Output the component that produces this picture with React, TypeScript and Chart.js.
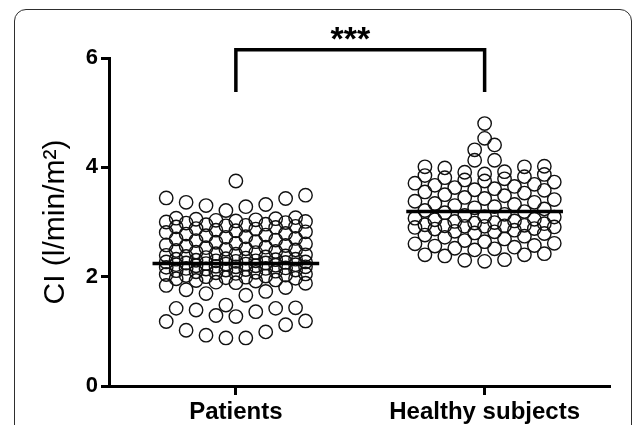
import React, { useEffect, useRef } from "react";
import { Chart, registerables } from "chart.js";

Chart.register(...registerables);

// ---- data ----
const categories = ["Patients", "Healthy subjects"];

const patientsCI = [
  0.88, 0.88, 0.93, 0.99, 1.02, 1.12, 1.18, 1.19,
  1.27, 1.29, 1.36, 1.39, 1.42, 1.42, 1.43,
  1.48, 1.66, 1.69, 1.73, 1.76, 1.80, 1.84, 1.88,
  1.89, 1.90, 1.92, 1.93, 1.94, 1.96, 1.97,
  1.98, 1.99, 2.00, 2.01, 2.02, 2.03, 2.04, 2.05,
  2.06, 2.07, 2.08, 2.09, 2.10, 2.11, 2.12,
  2.12, 2.13, 2.14, 2.15, 2.15, 2.16, 2.17, 2.18,
  2.18, 2.19, 2.20, 2.20, 2.21, 2.22, 2.22,
  2.23, 2.23, 2.24, 2.25, 2.25, 2.26, 2.27, 2.27,
  2.28, 2.29, 2.29, 2.30, 2.31, 2.32, 2.32,
  2.33, 2.34, 2.35, 2.36, 2.37, 2.38, 2.39, 2.40,
  2.41, 2.42, 2.44, 2.45, 2.46, 2.48, 2.49,
  2.50, 2.51, 2.53, 2.54, 2.56, 2.57, 2.58, 2.60,
  2.61, 2.63, 2.64, 2.66, 2.67, 2.69, 2.70,
  2.72, 2.73, 2.75, 2.76, 2.78, 2.79, 2.81, 2.82,
  2.84, 2.85, 2.87, 2.88, 2.90, 2.91, 2.92,
  2.93, 2.94, 2.95, 2.96, 2.98, 2.99, 3.00, 3.01,
  3.02, 3.03, 3.04, 3.05, 3.06, 3.07, 3.08,
  3.21, 3.28, 3.30, 3.32, 3.36, 3.43, 3.44, 3.49,
  3.75,
];

const healthyCI = [
  2.28, 2.30, 2.31, 2.38, 2.40, 2.40, 2.42,
  2.49, 2.51, 2.52, 2.54, 2.56, 2.57, 2.60, 2.61,
  2.64, 2.66, 2.69, 2.72, 2.74, 2.76, 2.79,
  2.80, 2.82, 2.83, 2.85, 2.87, 2.88, 2.90, 2.91,
  2.92, 2.92, 2.93, 2.93, 2.94, 2.95, 2.97,
  2.98, 2.99, 3.01, 3.02, 3.04, 3.05, 3.07, 3.09,
  3.10, 3.12, 3.14, 3.17, 3.19, 3.21, 3.24,
  3.26, 3.28, 3.30, 3.32, 3.34, 3.36, 3.38, 3.41,
  3.43, 3.45, 3.48, 3.50, 3.53, 3.55, 3.58,
  3.59, 3.61, 3.63, 3.65, 3.67, 3.69, 3.71, 3.73,
  3.75, 3.77, 3.79, 3.81, 3.83, 3.85, 3.87,
  3.88, 3.91, 3.92, 3.99, 4.01, 4.01, 4.02,
  4.13, 4.13,
  4.32, 4.41,
  4.53,
  4.80,
];

const groupMeans = [2.24, 3.19];
const yTickValues = [0, 2, 4, 6];
const bracketY = [5.38, 6.15];
const significanceLabel = "***";
const significanceAt = [0.46, 6.32];

// ---- layout helpers ----
const FONT = "'Liberation Sans', Arial, Helvetica, sans-serif";

// Prism-like column scatter: sorted values grouped into rows (honeycomb: alternating
// row capacities), each row spread side by side around the category centre.
function spread(values: number[], center: number, rowWindow: number, caps: number[], step: number) {
  const sorted = [...values].sort((a, b) => a - b);
  const out: { x: number; y: number }[] = [];
  let i = 0;
  let r = 0;
  while (i < sorted.length) {
    const cap = caps[r % caps.length];
    const start = sorted[i];
    const row: number[] = [];
    while (i < sorted.length && row.length < cap && sorted[i] < start + rowWindow) {
      row.push(sorted[i]);
      i++;
    }
    const n = row.length;
    row.forEach((v, k) => {
      let off: number;
      if (n % 2 === 1) {
        if (k === 0) off = 0;
        else {
          const j = Math.ceil(k / 2);
          off = (k % 2 === 1 ? -1 : 1) * j * step;
        }
      } else {
        const j = Math.floor(k / 2);
        off = (k % 2 === 0 ? -1 : 1) * (j + 0.5) * step;
      }
      out.push({ x: center + off, y: v });
    });
    r++;
  }
  return out;
}

const bracketPlugin = {
  id: "bracket",
  afterDraw(chart: any) {
    const { ctx, scales } = chart;
    const x = scales.x;
    const y = scales.y;
    const x0 = x.getPixelForValue(0);
    const x1 = x.getPixelForValue(1);
    const yl = y.getPixelForValue(bracketY[0]);
    const yh = y.getPixelForValue(bracketY[1]);
    ctx.save();
    ctx.strokeStyle = "#000";
    ctx.lineWidth = 3.5;
    ctx.lineJoin = "miter";
    ctx.lineCap = "butt";
    ctx.beginPath();
    ctx.moveTo(x0, yl);
    ctx.lineTo(x0, yh);
    ctx.lineTo(x1, yh);
    ctx.lineTo(x1, yl);
    ctx.stroke();
    ctx.fillStyle = "#000";
    ctx.font = `bold 34px ${FONT}`;
    ctx.textAlign = "center";
    ctx.textBaseline = "middle";
    ctx.fillText(significanceLabel, x.getPixelForValue(significanceAt[0]), y.getPixelForValue(significanceAt[1]));
    ctx.restore();
  },
};

export default function App() {
  const ref = useRef<HTMLCanvasElement>(null);

  useEffect(() => {
    if (!ref.current) return;
    const step = 0.08;
    const pointStyle = {
      pointRadius: 6.7,
      pointHoverRadius: 6.7,
      pointBorderWidth: 1.4,
      pointBorderColor: "#111",
      pointBackgroundColor: "rgba(0,0,0,0)",
      showLine: false,
      clip: false as any,
      order: 2,
    };
    const meanLine = (i: number, half: number) => ({
      data: [
        { x: i - half, y: groupMeans[i] },
        { x: i + half, y: groupMeans[i] },
      ],
      showLine: true,
      borderColor: "#000",
      borderWidth: 3.5,
      pointRadius: 0,
      clip: false as any,
      order: 0,
    });

    const chart = new Chart(ref.current, {
      type: "scatter",
      data: {
        datasets: [
          meanLine(0, 0.335),
          meanLine(1, 0.315),
          { ...pointStyle, data: spread(patientsCI, 0, 0.45, [8, 7], step) },
          { ...pointStyle, data: spread(healthyCI, 1, 0.18, [7, 8], step) },
        ] as any,
      },
      options: {
        responsive: false,
        devicePixelRatio: 1,
        animation: false,
        layout: { padding: { left: 0, top: 58, right: 25, bottom: 0 } },
        plugins: { legend: { display: false }, tooltip: { enabled: false } },
        scales: {
          x: {
            type: "linear",
            min: -0.51,
            max: 1.5,
            afterBuildTicks: (s: any) => {
              s.ticks = categories.map((_, i) => ({ value: i }));
            },
            afterFit: (s: any) => {
              s.height = 39;
            },
            ticks: {
              autoSkip: false,
              maxRotation: 0,
              padding: 3,
              color: "#000",
              font: { family: FONT, size: 24, weight: "bold" },
              callback: (v: any) => categories[Math.round(Number(v))] ?? "",
            },
            grid: { display: true, drawOnChartArea: false, drawTicks: true, tickLength: 9, lineWidth: 3, color: "#000" },
            border: { display: true, width: 3, color: "#000" },
          },
          y: {
            type: "linear",
            min: 0,
            max: 6,
            afterBuildTicks: (s: any) => {
              s.ticks = yTickValues.map((v) => ({ value: v }));
            },
            afterFit: (s: any) => {
              s.width = 109;
            },
            ticks: {
              padding: 3,
              color: "#000",
              font: { family: FONT, size: 22, weight: "bold" },
            },
            grid: { display: true, drawOnChartArea: false, drawTicks: true, tickLength: 8, lineWidth: 3, color: "#000" },
            border: { display: true, width: 3, color: "#000" },
            title: {
              display: true,
              text: "CI (l/min/m²)",
              color: "#000",
              font: { family: FONT, size: 30, weight: "normal" },
              padding: { top: 38, bottom: 0 },
            },
          },
        },
      } as any,
      plugins: [bracketPlugin],
    });
    return () => chart.destroy();
  }, []);

  return (
    <div
      style={{
        position: "fixed",
        left: 0,
        top: 0,
        width: 634,
        height: 425,
        background: "#fff",
        overflow: "hidden",
      }}
    >
      <canvas ref={ref} width={634} height={425} style={{ display: "block", width: 634, height: 425 }} />
      <div
        style={{
          position: "absolute",
          left: 14,
          top: 9,
          width: 618,
          height: 450,
          border: "1.5px solid #2e2e2e",
          borderRadius: 12,
          boxSizing: "border-box",
          pointerEvents: "none",
        }}
      />
    </div>
  );
}
